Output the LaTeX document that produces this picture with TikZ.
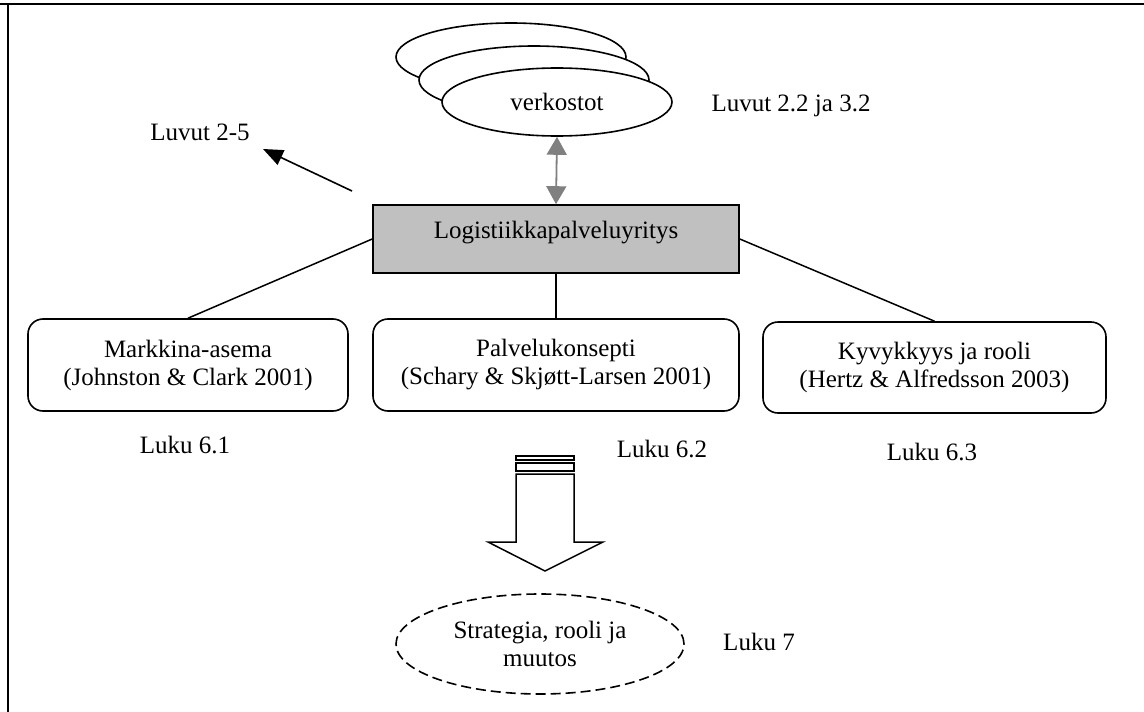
\documentclass[tikz,border=0pt]{standalone}
\usepackage{fontspec}
\setmainfont{Liberation Serif}
\usetikzlibrary{shapes.geometric,arrows.meta}
\definecolor{boxgray}{HTML}{C0C0C0}
\definecolor{arrgray}{HTML}{808080}
\tikzset{
  txt/.style={font=\fontsize{25}{28}\selectfont, inner sep=0pt},
  cloud/.style={ellipse, draw, fill=white, line width=1.6pt, minimum width=230pt, minimum height=68pt, inner sep=0pt, txt},
  topicbox/.style={draw, rounded corners=15pt, line width=1.6pt, align=center, inner sep=0pt, txt},
  firmbox/.style={draw, fill=boxgray, line width=1.6pt, inner sep=0pt, minimum width=366pt, minimum height=68pt, text height=17pt, text depth=19pt, txt},
  link/.style={line width=1.5pt},
}
\begin{document}
\begin{tikzpicture}[x=1pt,y=-1pt]
\useasboundingbox (0,0) rectangle (1144,712);
% frame
\coordinate (ftl) at (0,4);
\coordinate (ftr) at (1144,4);
\coordinate (fc) at (8,4);
\coordinate (fb) at (8,712);
\draw[line width=2pt] (ftl) -- (ftr);
\draw[line width=2pt] (fc) -- (fb);

% networks (stacked ellipses)
\node[cloud] (net1) at (511,57) {};
\node[cloud] (net2) at (534,80) {};
\node[cloud] (net3) at (557,102) {verkostot};
\node[txt, anchor=base] (l22) at (791,111) {Luvut 2.2 ja 3.2};

% central firm
\node[firmbox] (firm) at (556,239) {Logistiikkapalveluyritys};

% double arrow
\draw[arrgray, line width=1.8pt, {Triangle[width=20pt,length=18pt]}-{Triangle[width=20pt,length=18pt]}] (net3.south) -- (firm.north);

% arrow to Luvut 2-5
\coordinate (a25s) at (352,191);
\coordinate (a25e) at (263,149);
\draw[line width=1.6pt, -{Triangle[width=16pt,length=20pt]}] (a25s) -- (a25e);
\node[txt, anchor=base] (l25) at (200,140) {Luvut 2-5};

% topic boxes
\node[topicbox, minimum width=320pt, minimum height=92pt] (market) at (188,365) {Markkina-asema\\(Johnston \& Clark 2001)};
\node[topicbox, minimum width=366pt, minimum height=92pt] (service) at (556,365) {Palvelukonsepti\\(Schary \& Skjøtt-Larsen 2001)};
\node[topicbox, minimum width=343pt, minimum height=91pt] (capab) at (934.5,367.5) {Kyvykkyys ja rooli\\(Hertz \& Alfredsson 2003)};

\draw[link] (firm.west) -- (market.north);
\draw[link] (firm.south) -- (service.north);
\draw[link] (firm.east) -- (capab.north);

\node[txt, anchor=base] (l61) at (185,453) {Luku 6.1};
\node[txt, anchor=base] (l62) at (662,457) {Luku 6.2};
\node[txt, anchor=base] (l63) at (932,460) {Luku 6.3};

% big block arrow
\draw[line width=1.5pt] (516,456) rectangle (574,460);
\draw[line width=1.5pt] (516,463) rectangle (574,471);
\draw[line width=1.5pt, line join=miter] (516,474) -- (574,474) -- (574,542) -- (603,542) -- (545,571) -- (488,542) -- (516,542) -- cycle;

% strategy ellipse
\node[ellipse, draw, line width=1.6pt, dash pattern=on 10pt off 5pt, minimum width=288pt, minimum height=100pt, align=center, txt] (strat) at (540,644) {Strategia, rooli ja\\muutos};
\node[txt, anchor=base] (l7) at (759,650) {Luku 7};
\end{tikzpicture}
\end{document}
